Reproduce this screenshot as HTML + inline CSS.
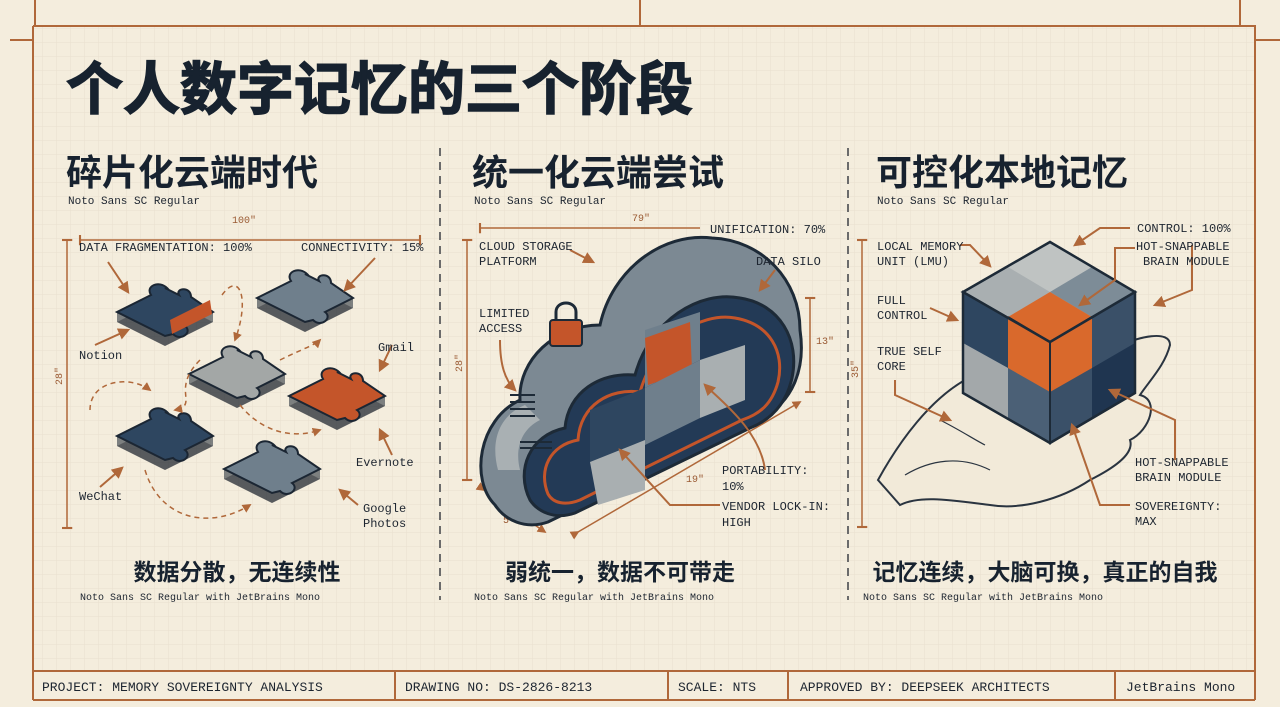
<!DOCTYPE html>
<html><head><meta charset="utf-8"><style>
html,body{margin:0;padding:0;background:#f4eddd;}
svg{display:block}
.m{font-family:"Liberation Mono",monospace;fill:#1d2530}
.h{font-family:"Liberation Sans","Noto Sans CJK SC",sans-serif;font-weight:bold;fill:#17222f}
</style></head><body>
<svg width="1280" height="707" viewBox="0 0 1280 707" xmlns="http://www.w3.org/2000/svg">
<defs>
<pattern id="g" width="14" height="14" patternUnits="userSpaceOnUse"><path d="M14 0H0V14" fill="none" stroke="#e9e0cf" stroke-width="1"/></pattern>
<marker id="a" viewBox="0 0 10 10" refX="8" refY="5" markerWidth="6" markerHeight="6" orient="auto"><path d="M0 0L10 5L0 10z" fill="#b0683a"/></marker>
<marker id="t" viewBox="0 0 10 10" refX="5" refY="5" markerWidth="7" markerHeight="7" orient="auto"><path d="M5 0V10" stroke="#b0683a" stroke-width="2"/></marker>
<g id="pz">
<path d="M-48 4 L0 -20 L48 4 L0 28 Z" transform="translate(0,10)" fill="#000" opacity=".35"/>
<path d="M-48 4 L-48 14 L0 38 L48 14 L48 4 L0 28 Z" fill="#1b2633" opacity=".55"/>
<path d="M-48 4 L-14 -13 C-20 -22 -6 -28 2 -20 L0 -20 L14 -13 C10 -20 26 -22 26 -11 L48 4 L20 18 C28 24 16 34 8 26 L0 28 Z" stroke="#1b2633" stroke-width="2"/>
</g>
</defs>
<rect width="1280" height="707" fill="#f4eddd"/>
<rect x="33" y="26" width="1222" height="645" fill="url(#g)"/>
<g stroke="#b0683a" stroke-width="2" fill="none">
<path d="M10 40H33M33 26H1255V700M33 26V700M35 0V26M640 0V26M1240 0V26M1255 40H1280"/>
<path d="M33 671H1255M33 700H1255M395 671V700M668 671V700M788 671V700M1115 671V700"/>
</g>
<g stroke="#6b6b6b" stroke-width="2" stroke-dasharray="8 6"><path d="M440 148V600M848 148V600"/></g>

<text x="66" y="109" class="h" font-size="57" style="stroke:#17222f;stroke-width:1.5">个人数字记忆的三个阶段</text>
<text x="66" y="185" class="h" font-size="36">碎片化云端时代</text>
<text x="472" y="185" class="h" font-size="36">统一化云端尝试</text>
<text x="876" y="185" class="h" font-size="36">可控化本地记忆</text>
<g class="m" font-size="11"><text x="68" y="204">Noto Sans SC Regular</text><text x="474" y="204">Noto Sans SC Regular</text><text x="877" y="204">Noto Sans SC Regular</text>
<text x="80" y="600" font-size="10">Noto Sans SC Regular with JetBrains Mono</text><text x="474" y="600" font-size="10">Noto Sans SC Regular with JetBrains Mono</text><text x="863" y="600" font-size="10">Noto Sans SC Regular with JetBrains Mono</text></g>
<text x="237" y="580" class="h" font-size="23" text-anchor="middle">数据分散，无连续性</text>
<text x="620" y="580" class="h" font-size="23" text-anchor="middle">弱统一，数据不可带走</text>
<text x="1045" y="580" class="h" font-size="23" text-anchor="middle">记忆连续，大脑可换，真正的自我</text>

<!-- dimension lines -->
<g stroke="#b0683a" stroke-width="1.5" fill="none">
<path d="M80 240H420" marker-start="url(#t)" marker-end="url(#t)"/>
<path d="M67 240V528" marker-start="url(#t)" marker-end="url(#t)"/>
<path d="M480 228H700" marker-start="url(#t)"/>
<path d="M467 240V480" marker-start="url(#t)" marker-end="url(#t)"/>
<path d="M810 298V392" marker-start="url(#t)" marker-end="url(#t)"/>
<path d="M578 532L800 402" marker-start="url(#a)" marker-end="url(#a)"/>
<path d="M484 490L545 532" marker-start="url(#a)" marker-end="url(#a)"/>
<path d="M862 240V527" marker-start="url(#t)" marker-end="url(#t)"/>
</g>
<g font-family="Liberation Mono,monospace" font-size="10" fill="#9a5a33">
<text x="232" y="223">100"</text><text x="632" y="221">79"</text><text x="816" y="344">13"</text><text x="686" y="482">19"</text><text x="503" y="523">5"</text>
<text transform="translate(62,385) rotate(-90)">28"</text><text transform="translate(462,372) rotate(-90)">28"</text><text transform="translate(858,378) rotate(-90)">35"</text>
</g>

<!-- column 1 puzzles -->
<use href="#pz" x="165" y="308" fill="#2e4660"/>
<path d="M170 320 L210 300 L212 314 L172 334Z" fill="#c4552a"/>
<use href="#pz" x="305" y="294" fill="#6f7f8c"/>
<use href="#pz" x="237" y="370" fill="#a3a7a6"/>
<use href="#pz" x="337" y="392" fill="#c4552a"/>
<use href="#pz" x="165" y="432" fill="#2e4660"/>
<use href="#pz" x="272" y="465" fill="#6f7f8c"/>
<g stroke="#b0683a" stroke-width="1.5" fill="none" stroke-dasharray="5 4" marker-end="url(#a)">
<path d="M222 295C240 270 250 300 235 340"/><path d="M200 360C170 390 200 405 175 410"/><path d="M280 360C300 350 315 345 320 340"/>
<path d="M90 410C90 380 130 375 150 390"/><path d="M145 470C160 520 210 530 250 505"/><path d="M240 405C260 430 290 440 320 430"/>
</g>
<g stroke="#b0683a" stroke-width="2" fill="none" marker-end="url(#a)">
<path d="M108 262L128 292"/><path d="M375 258L345 290"/><path d="M95 345L128 330"/><path d="M392 345L380 370"/>
<path d="M392 455L380 430"/><path d="M100 487L122 468"/><path d="M358 505L340 490"/>
</g>
<g class="m" font-size="12">
<text x="79" y="251">DATA FRAGMENTATION: 100%</text><text x="301" y="251">CONNECTIVITY: 15%</text>
<text x="79" y="359">Notion</text><text x="378" y="351">Gmail</text><text x="356" y="466">Evernote</text>
<text x="79" y="500">WeChat</text><text x="363" y="512">Google</text><text x="363" y="527">Photos</text>
</g>

<!-- cloud -->
<path d="M495 505C470 480 478 420 520 400C518 360 555 325 600 325C612 270 662 232 712 238C762 240 800 280 800 330C806 370 792 402 762 418L548 522C525 530 505 520 495 505Z" fill="#7c8993" stroke="#1d2a37" stroke-width="3"/>
<path d="M498 470C490 440 500 415 525 405L540 420C520 430 515 450 520 470Z" fill="#a9b0b3"/>
<path d="M530 500C515 470 530 435 565 428C568 392 600 372 635 375C650 320 700 290 740 298C780 304 800 340 792 378C786 405 770 420 750 428L575 513C555 520 538 512 530 500Z" fill="#233a56" stroke="#1d2a37" stroke-width="3"/>
<path d="M548 494C538 470 550 445 578 440C580 405 610 388 640 392C655 340 700 312 735 318C770 324 785 352 778 382C772 404 760 414 742 420L580 500C565 506 553 503 548 494Z" fill="none" stroke="#c4552a" stroke-width="3"/>
<path d="M590 410L645 388L645 440L590 462Z" fill="#2e4660"/>
<path d="M645 330L700 312L700 360L645 388Z" fill="#6f7f8c"/>
<path d="M645 338L690 322L692 370L648 385Z" fill="#c4552a"/>
<path d="M700 360L745 345L745 400L700 418Z" fill="#a9afb1"/>
<path d="M645 388L700 360L700 418L645 445Z" fill="#6f7f8c"/>
<path d="M590 462L645 440L645 490L598 505Z" fill="#a9afb1"/>
<rect x="550" y="320" width="32" height="26" rx="3" fill="#c4552a" stroke="#1d2a37" stroke-width="2"/>
<path d="M556 320V312C556 300 576 300 576 312V320" fill="none" stroke="#1d2a37" stroke-width="3"/>
<g stroke="#1d2a37" stroke-width="2"><path d="M510 395H535M510 402H535M510 409H535M510 416H535"/><path d="M520 442H552M520 448H552"/></g>
<g stroke="#b0683a" stroke-width="2" fill="none" marker-end="url(#a)">
<path d="M570 250L593 262"/><path d="M775 270L760 290"/><path d="M500 340C500 365 505 380 515 390"/>
<path d="M765 470C760 430 720 400 705 385"/><path d="M720 505H670L620 450"/>
</g>
<g class="m" font-size="12">
<text x="710" y="233">UNIFICATION: 70%</text><text x="479" y="250">CLOUD STORAGE</text><text x="479" y="265">PLATFORM</text>
<text x="756" y="265">DATA SILO</text><text x="479" y="317">LIMITED</text><text x="479" y="332">ACCESS</text>
<text x="722" y="474">PORTABILITY:</text><text x="722" y="490">10%</text><text x="722" y="510">VENDOR LOCK-IN:</text><text x="722" y="526">HIGH</text>
</g>

<!-- hand -->
<path d="M878 480C900 440 930 400 965 380L1000 380L1110 350C1140 335 1170 330 1170 345C1165 365 1150 380 1140 395C1160 400 1150 430 1130 440C1135 455 1110 470 1090 480C1060 500 1020 510 990 505C950 500 920 495 900 505Z" fill="#f2ead9" stroke="#2a3440" stroke-width="2"/>
<path d="M905 475C930 460 960 455 990 470M940 420C960 430 975 440 985 445" stroke="#2a3440" stroke-width="1.2" fill="none"/>
<!-- cube -->
<path d="M1050 242L1135 292L1050 342L963 292Z" fill="#a9afb1" stroke="#1d2a37" stroke-width="2"/>
<path d="M963 292L1050 342V443L963 393Z" fill="#4b6076" stroke="#1d2a37" stroke-width="2"/>
<path d="M1050 342L1135 292V393L1050 443Z" fill="#3a5068" stroke="#1d2a37" stroke-width="2"/>
<path d="M1050 242L1092 267L1050 292L1008 267Z" fill="#bfc3c2"/>
<path d="M963 292L1008 317V368L963 343Z" fill="#2e4660"/>
<path d="M963 343L1008 368V418L963 393Z" fill="#a3a8aa"/>
<path d="M1092 267L1135 292L1092 317L1050 292Z" fill="#7d8c97"/>
<path d="M1008 317L1050 292L1092 317L1092 368L1050 392L1008 368Z" fill="#d9692c"/>
<path d="M1050 342L1092 317M1050 342V392M1050 342L1008 317" stroke="#1d2a37" stroke-width="2"/>
<path d="M1092 368L1135 343V393L1092 418Z" fill="#1f3550"/>
<path d="M1050 242L1135 292L1050 342L963 292ZM963 292V393L1050 443L1135 393V292" fill="none" stroke="#1d2a37" stroke-width="2.5"/>
<g stroke="#b0683a" stroke-width="2" fill="none" marker-end="url(#a)">
<path d="M1130 228H1100L1075 245"/><path d="M960 245H970L990 266"/><path d="M1135 248H1115V280L1080 305"/>
<path d="M1192 245V290L1155 305"/><path d="M930 308L957 320"/><path d="M895 380V395L950 420"/>
<path d="M1175 460V420L1110 390"/><path d="M1130 505H1100L1072 425"/>
</g>
<g class="m" font-size="12">
<text x="1137" y="232">CONTROL: 100%</text><text x="877" y="250">LOCAL MEMORY</text><text x="877" y="265">UNIT (LMU)</text>
<text x="1136" y="250">HOT-SNAPPABLE</text><text x="1143" y="265">BRAIN MODULE</text>
<text x="877" y="304">FULL</text><text x="877" y="319">CONTROL</text><text x="877" y="355">TRUE SELF</text><text x="877" y="370">CORE</text>
<text x="1135" y="466">HOT-SNAPPABLE</text><text x="1135" y="481">BRAIN MODULE</text><text x="1135" y="510">SOVEREIGNTY:</text><text x="1135" y="525">MAX</text>
</g>

<g class="m" font-size="13">
<text x="42" y="691">PROJECT: MEMORY SOVEREIGNTY ANALYSIS</text><text x="405" y="691">DRAWING NO: DS-2826-8213</text>
<text x="678" y="691">SCALE: NTS</text><text x="800" y="691">APPROVED BY: DEEPSEEK ARCHITECTS</text><text x="1126" y="691">JetBrains Mono</text>
</g>
</svg>
</body></html>
